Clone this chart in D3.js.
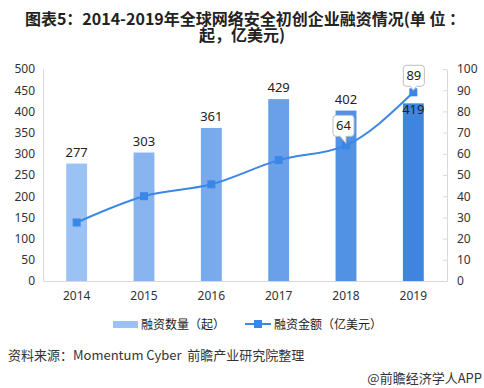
<!DOCTYPE html>
<html>
<head>
<meta charset="utf-8">
<script src="https://cdn.jsdelivr.net/npm/d3@7"></script>
<style>
  body { margin: 0; background: #fff; }
  text { font-family: "Noto Sans CJK SC", "Microsoft YaHei", sans-serif; white-space: pre; }
</style>
</head>
<body>
<div id="chart"></div>
<script>
// data
const years = ["2014", "2015", "2016", "2017", "2018", "2019"];
const dealCounts = [277, 303, 361, 429, 402, 419];
const fundingAmounts = [27.6, 40, 45.6, 57, 64, 89];
const barColors = ["#9bc2f4", "#88b4f0", "#78aaed", "#6aa0ea", "#5192e4", "#3f85e0"];
const leftTicks = [0, 50, 100, 150, 200, 250, 300, 350, 400, 450, 500];
const rightTicks = [0, 10, 20, 30, 40, 50, 60, 70, 80, 90, 100];
const calloutYears = ["2018", "2019"];

const width = 484, height = 388;
const margin = {top: 69, right: 37, bottom: 107, left: 43};
const innerWidth = width - margin.left - margin.right,
    innerHeight = height - margin.top - margin.bottom;

const svg = d3.select("#chart")
    .append("svg")
    .attr("width", width)
    .attr("height", height);

// title
const title = svg.append("text")
    .attr("text-anchor", "middle")
    .attr("font-size", 16)
    .attr("font-weight", "bold")
    .attr("fill", "#222");
title.append("tspan").attr("x", 245).attr("y", 25)
    .text("图表5：2014-2019年全球网络安全初创企业融资情况(单 位 ：");
title.append("tspan").attr("x", 242).attr("y", 41)
    .text("起，亿美元)");

const g = svg.append("g")
    .attr("transform", "translate(" + margin.left + "," + margin.top + ")");

const xScale = d3.scaleBand().domain(years).range([0, innerWidth]).paddingInner(0.69).paddingOuter(0.345);
const yLeft = d3.scaleLinear().domain([0, 500]).range([innerHeight, 0]);
const yRight = d3.scaleLinear().domain([0, 100]).range([innerHeight, 0]);
const xCenter = d => xScale(d) + xScale.bandwidth() / 2;

// left axis
const leftAxis = g.append("g")
    .call(d3.axisLeft(yLeft).tickValues(leftTicks).tickSize(0).tickPadding(8));
leftAxis.select(".domain").attr("stroke", "#d9d9d9");
leftAxis.selectAll("text").attr("font-size", 12).attr("fill", "#333")
    .style("font-family", "'Noto Sans', sans-serif");

// right axis
const rightAxis = g.append("g")
    .attr("transform", "translate(" + innerWidth + ",0)")
    .call(d3.axisRight(yRight).tickValues(rightTicks).tickSize(0).tickPadding(10));
rightAxis.select(".domain").attr("stroke", "#d9d9d9");
rightAxis.selectAll("text").attr("font-size", 12).attr("fill", "#333")
    .style("font-family", "'Noto Sans', sans-serif");
rightAxis.selectAll(".tick").append("line")
    .attr("x1", -4).attr("x2", 0).attr("stroke", "#d9d9d9");

// x axis
const xAxisG = g.append("g")
    .attr("transform", "translate(0," + innerHeight + ")")
    .call(d3.axisBottom(xScale).tickSize(0).tickPadding(10));
xAxisG.select(".domain").attr("stroke", "#d9d9d9");
xAxisG.selectAll("text").attr("font-size", 12).attr("fill", "#333")
    .style("font-family", "'Noto Sans', sans-serif");

// bars
g.selectAll(".bar")
    .data(years)
    .enter()
    .append("rect")
    .attr("x", d => xScale(d))
    .attr("width", xScale.bandwidth())
    .attr("y", (d, i) => yLeft(dealCounts[i]))
    .attr("height", (d, i) => innerHeight - yLeft(dealCounts[i]))
    .attr("fill", (d, i) => barColors[i]);

// bar labels
g.selectAll(".barLabel")
    .data(years)
    .enter()
    .append("text")
    .attr("x", d => xCenter(d))
    .attr("y", (d, i) => yLeft(dealCounts[i]) - (i === 5 ? -11 : 7))
    .attr("text-anchor", "middle")
    .attr("font-size", 13)
    .attr("fill", "#222")
    .style("font-family", "'Noto Sans', sans-serif")
    .text((d, i) => dealCounts[i]);

// line
const line = d3.line()
    .x(d => xCenter(d))
    .y((d, i) => yRight(fundingAmounts[i]))
    .curve(d3.curveMonotoneX);
g.append("path")
    .datum(years)
    .attr("fill", "none")
    .attr("stroke", "#3a87e6")
    .attr("stroke-width", 2)
    .attr("d", line);

g.selectAll(".marker")
    .data(years)
    .enter()
    .append("rect")
    .attr("x", d => xCenter(d) - 4)
    .attr("y", (d, i) => yRight(fundingAmounts[i]) - 4)
    .attr("width", 8)
    .attr("height", 8)
    .attr("fill", "#3a87e6");

// callouts for the line values
calloutYears.forEach(function (yr) {
    const i = years.indexOf(yr);
    const cx = xCenter(yr), cy = yRight(fundingAmounts[i]);
    const bw = 21, bh = 21;
    const bx = cx - (i === 5 ? 10 : 13), by = cy - bh - (i === 5 ? 6 : 9);
    const tx = i === 5 ? cx - 1 : cx - 4;
    const p = d3.path();
    const r = 3;
    p.moveTo(bx + r, by);
    p.lineTo(bx + bw - r, by);
    p.quadraticCurveTo(bx + bw, by, bx + bw, by + r);
    p.lineTo(bx + bw, by + bh - r);
    p.quadraticCurveTo(bx + bw, by + bh, bx + bw - r, by + bh);
    p.lineTo(tx + 4, by + bh);
    p.lineTo(cx, cy - 2);
    p.lineTo(tx - 2, by + bh);
    p.lineTo(bx + r, by + bh);
    p.quadraticCurveTo(bx, by + bh, bx, by + bh - r);
    p.lineTo(bx, by + r);
    p.quadraticCurveTo(bx, by, bx + r, by);
    p.closePath();
    g.append("path")
        .attr("d", p.toString())
        .attr("fill", "#fff")
        .attr("stroke", "#bfbfbf")
        .attr("stroke-width", 1);
    g.append("text")
        .attr("x", bx + bw / 2)
        .attr("y", by + 15)
        .attr("text-anchor", "middle")
        .attr("font-size", 13)
        .attr("fill", "#222")
        .style("font-family", "'Noto Sans', sans-serif")
        .text(fundingAmounts[i]);
});

// legend
const legend = svg.append("g").attr("transform", "translate(0,324)");
legend.append("rect")
    .attr("x", 113).attr("y", -3).attr("width", 25).attr("height", 7)
    .attr("fill", barColors[0]);
legend.append("text")
    .attr("x", 141).attr("y", 5)
    .attr("font-size", 12).attr("fill", "#222")
    .text("融资数量（起）");
legend.append("line")
    .attr("x1", 245).attr("x2", 271).attr("y1", 0).attr("y2", 0)
    .attr("stroke", "#3a87e6").attr("stroke-width", 2);
legend.append("rect")
    .attr("x", 254).attr("y", -4).attr("width", 8).attr("height", 8)
    .attr("fill", "#3a87e6");
legend.append("text")
    .attr("x", 274).attr("y", 5)
    .attr("font-size", 12).attr("fill", "#222")
    .text("融资金额（亿美元）");

// source
svg.append("text")
    .attr("x", 8).attr("y", 360)
    .attr("font-size", 13).attr("fill", "#333")
    .text("资料来源：Momentum Cyber  前瞻产业研究院整理");

svg.append("text")
    .attr("x", 482).attr("y", 383)
    .attr("text-anchor", "end")
    .attr("font-size", 13).attr("fill", "#333")
    .text("@前瞻经济学人APP");
</script>
</body>
</html>
